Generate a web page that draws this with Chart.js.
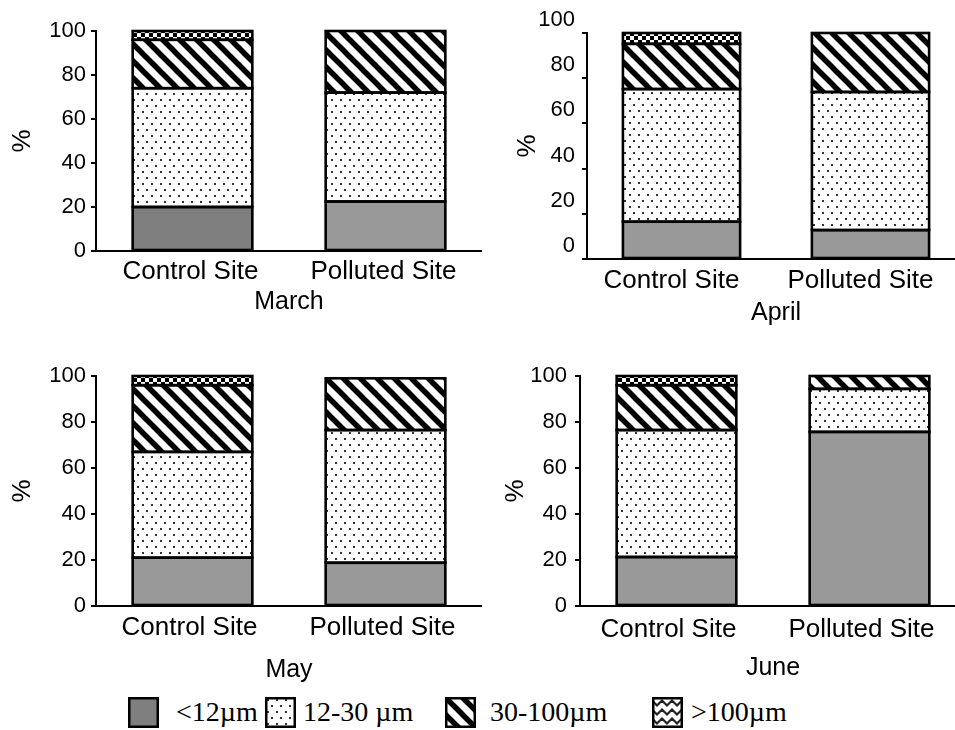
<!DOCTYPE html>
<html>
<head>
<meta charset="utf-8">
<script src="https://cdn.jsdelivr.net/npm/chart.js@4.4.0/dist/chart.umd.min.js"></script>
<style>
  html, body { margin: 0; padding: 0; background: #fff; }
  body { width: 955px; height: 730px; overflow: hidden; position: relative; }
  canvas.panel { position: absolute; }
  .sw { position: absolute; top: 697px; }
  .lbl { position: absolute; top: 692px; height: 40px; line-height: 40px; font-family: "Times New Roman", "Liberation Serif", serif; font-size: 28px; color: #000; white-space: nowrap; }
</style>
</head>
<body>
<canvas id="march" class="panel"></canvas>
<canvas id="april" class="panel"></canvas>
<canvas id="may" class="panel"></canvas>
<canvas id="june" class="panel"></canvas>
<div id="legend"></div>
<script>
const sites = ['Control Site', 'Polluted Site'];
const months = ['March', 'April', 'May', 'June'];
const sizeClasses = ['<12µm', '12-30 µm', '30-100µm', '>100µm'];
const yTicks = [0, 20, 40, 60, 80, 100];

// % per size class, order: Mar C, Mar P, Apr C, Apr P, May C, May P, Jun C, Jun P
const fine = [20, 22.5, 16.5, 12.8, 21, 18.8, 21.3, 75.7];
const medium = [54, 49.5, 58.7, 61.1, 46, 57.7, 55.2, 18.7];
const coarse = [22, 28, 20, 26.1, 29, 22.5, 19.5, 5.6];
const veryCoarse = [4, 0, 4.8, 0, 4, 0, 4, 0];

const fontSans = 'Arial, "Liberation Sans", sans-serif';

function tileCanvas(w, h, draw) {
  const c = document.createElement('canvas');
  c.width = w; c.height = h;
  const g = c.getContext('2d');
  g.fillStyle = '#fff';
  g.fillRect(0, 0, w, h);
  draw(g);
  return c;
}
function pattern(c) {
  return document.createElement('canvas').getContext('2d').createPattern(c, 'repeat');
}

const dotTile = tileCanvas(18, 12, g => {
  g.fillStyle = '#333';
  [[2, 2], [11, 2], [6, 8], [15, 8]].forEach(p => g.fillRect(p[0], p[1], 2, 2));
});
const stripeTile = tileCanvas(17, 17, g => {
  g.strokeStyle = '#000';
  g.lineWidth = 5.5;
  [-17, 0, 17].forEach(o => {
    g.beginPath(); g.moveTo(o - 3, -3); g.lineTo(o + 20, 20); g.stroke();
  });
});
const checkTile = tileCanvas(8, 8, g => {
  g.fillStyle = '#000';
  g.fillRect(0, 0, 4, 4);
  g.fillRect(4, 4, 4, 4);
});
const dots = pattern(dotTile);
const stripes = pattern(stripeTile);
const checks = pattern(checkTile);

// black outline round every stacked segment, taken from the bar elements
const segmentOutline = {
  id: 'segmentOutline',
  afterDatasetsDraw(chart) {
    const ctx = chart.ctx;
    ctx.save();
    ctx.strokeStyle = '#000';
    ctx.lineWidth = 2.6;
    chart.data.datasets.forEach((ds, di) => {
      chart.getDatasetMeta(di).data.forEach(bar => {
        const p = bar.getProps(['x', 'y', 'base', 'width'], true);
        if (Math.abs(p.base - p.y) < 0.5) return;
        ctx.strokeRect(p.x - p.width / 2, Math.min(p.y, p.base), p.width, Math.abs(p.base - p.y));
      });
    });
    ctx.restore();
  }
};

const boxes = [
  { id: 'march', x: 5, y: 1, w: 477, h: 320, padTop: 30, yw: 91, xh: 70, xPad: 5, yPad: 5, lo: 0, xlo: -2 },
  { id: 'april', x: 510, y: 0, w: 455, h: 332, padTop: 33, yw: 77, xh: 73, xPad: 6, yPad: 7, lo: -13, xlo: -10 },
  { id: 'may', x: 5, y: 346, w: 477, h: 343, padTop: 30, yw: 91, xh: 83, xPad: 6, yPad: 5, lo: 0, xlo: -3 },
  { id: 'june', x: 498, y: 346, w: 468, h: 341, padTop: 30, yw: 82, xh: 81, xPad: 8, yPad: 8, lo: 0, xlo: -8 }
];

boxes.forEach((box, idx) => {
  const el = document.getElementById(box.id);
  el.width = box.w; el.height = box.h;
  el.style.left = box.x + 'px';
  el.style.top = box.y + 'px';
  const i = idx * 2;
  const grey = idx === 0 ? ['#7f7f7f', '#999999'] : ['#999999', '#999999'];
  const fills = [grey, dots, stripes, checks];
  const series = [fine, medium, coarse, veryCoarse];

  new Chart(el, {
    type: 'bar',
    data: {
      labels: sites,
      datasets: series.map((s, k) => ({
        label: sizeClasses[k],
        data: s.slice(i, i + 2),
        backgroundColor: fills[k],
        borderWidth: 0,
        barPercentage: 0.62,
        categoryPercentage: 1
      }))
    },
    options: {
      responsive: false,
      animation: false,
      layout: { padding: { top: box.padTop, left: 0, right: 0, bottom: 0 } },
      plugins: { legend: { display: false }, tooltip: { enabled: false } },
      scales: {
        x: {
          stacked: true,
          grid: { display: false, drawTicks: false },
          border: { color: '#000', width: 2 },
          ticks: { color: '#000', padding: box.xPad, labelOffset: box.xlo, font: { family: fontSans, size: 26 } },
          title: { display: true, text: months[idx], color: '#000', font: { family: fontSans, size: 25 }, padding: { top: 0, bottom: 4 } },
          afterFit: s => { s.height = box.xh; }
        },
        y: {
          stacked: true,
          min: 0,
          max: 100,
          afterBuildTicks: s => { s.ticks = yTicks.map(v => ({ value: v })); },
          grid: { drawOnChartArea: false, drawTicks: true, tickLength: 5, color: '#000', lineWidth: 2 },
          border: { color: '#000', width: 2 },
          ticks: { color: '#000', padding: box.yPad, labelOffset: box.lo, font: { family: fontSans, size: 22 } },
          title: { display: true, text: '%', color: '#000', font: { family: fontSans, size: 26 }, padding: 2 },
          afterFit: s => { s.width = box.yw; }
        }
      }
    },
    plugins: [segmentOutline]
  });
});

// legend
const legend = document.getElementById('legend');
const swatchLeft = [128, 265, 445, 652];
const textLeft = [176, 303, 490, 691];
sizeClasses.forEach((name, k) => {
  const c = document.createElement('canvas');
  c.width = 31; c.height = 31;
  c.className = 'sw';
  c.style.left = swatchLeft[k] + 'px';
  const g = c.getContext('2d');
  if (k === 0) {
    g.fillStyle = '#7f7f7f';
    g.fillRect(0, 0, 31, 31);
  } else if (k === 1) {
    g.fillStyle = dots;
    g.fillRect(0, 0, 31, 31);
  } else if (k === 2) {
    g.fillStyle = stripes;
    g.fillRect(0, 0, 31, 31);
  } else {
    g.fillStyle = '#fff';
    g.fillRect(0, 0, 31, 31);
    g.strokeStyle = '#222';
    g.lineWidth = 2.2;
    [6, 15, 24].forEach(y0 => {
      g.beginPath();
      for (let x = 0; x <= 31; x += 5) {
        const y = y0 + ((x / 5) % 2 === 0 ? -2.5 : 2.5);
        if (x === 0) g.moveTo(x, y); else g.lineTo(x, y);
      }
      g.stroke();
    });
  }
  g.strokeStyle = '#000';
  g.lineWidth = 2.5;
  g.strokeRect(1.25, 1.25, 28.5, 28.5);
  legend.appendChild(c);

  const t = document.createElement('div');
  t.className = 'lbl';
  t.style.left = textLeft[k] + 'px';
  t.textContent = name;
  legend.appendChild(t);
});
</script>
</body>
</html>
